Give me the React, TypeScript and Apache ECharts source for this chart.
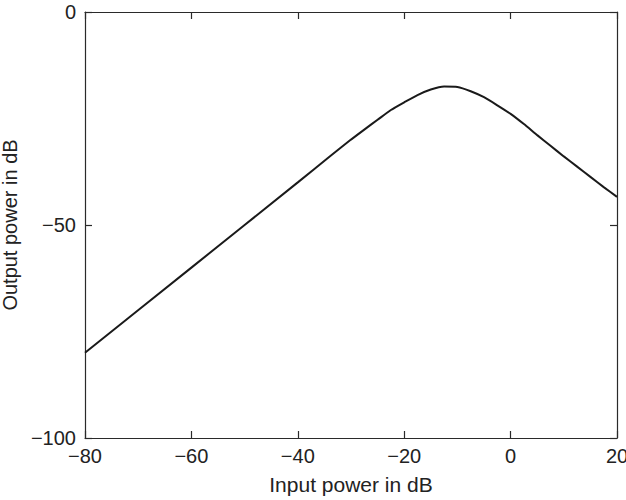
import React, { useEffect, useRef } from "react";
import * as echarts from "echarts";

const inputDb = [-80, -60, -40, -34, -30, -27.5, -25, -22.5, -20, -17.5, -15, -12.5, -10, -7.5, -5, -2.5, 0, 2.5, 5, 7.5, 10, 12.5, 15, 17.5, 20];
const outputDb = [-80, -60, -40, -33.9, -29.95, -27.6, -25.3, -23.0, -21.2, -19.5, -18.2, -17.5, -17.6, -18.6, -20.0, -21.9, -23.9, -26.3, -28.9, -31.4, -33.9, -36.3, -38.7, -41.1, -43.4];

const xTitle = "Input power in dB";
const yTitle = "Output power in dB";

const fmt = (v: number) => String(v).replace("-", "\u2212");

export default function App() {
  const ref = useRef<HTMLDivElement>(null);
  useEffect(() => {
    if (!ref.current) return;
    const chart = echarts.init(ref.current, null, { renderer: "svg" });
    const font = "Liberation Sans, Arial, Helvetica, sans-serif";
    const lineStyle = { color: "#2a2a2a", width: 1.2 };
    const baseX = {
      type: "value" as const,
      min: -80,
      max: 20,
      interval: 20,
      axisLine: { show: true, onZero: false, lineStyle },
      axisTick: { show: true, inside: true, length: 7, lineStyle },
      splitLine: { show: false },
    };
    const baseY = {
      type: "value" as const,
      min: -100,
      max: 0,
      interval: 50,
      axisLine: { show: true, onZero: false, lineStyle },
      axisTick: { show: true, inside: true, length: 7, lineStyle },
      splitLine: { show: false },
    };
    chart.setOption({
      animation: false,
      backgroundColor: "#ffffff",
      grid: { left: 85, right: 9, top: 12, bottom: 62, containLabel: false, outerBoundsMode: "none" },
      xAxis: [
        {
          ...baseX,
          position: "bottom",
          name: xTitle,
          nameLocation: "middle",
          nameGap: 36,
          nameTextStyle: { fontFamily: font, fontSize: 21, color: "#222" },
          axisLabel: { formatter: fmt, fontFamily: font, fontSize: 20, color: "#222", margin: 8, showMaxLabel: true, showMinLabel: true },
        },
        { ...baseX, position: "top", axisLabel: { show: false } },
      ],
      yAxis: [
        {
          ...baseY,
          position: "left",
          name: yTitle,
          nameLocation: "middle",
          nameGap: 62,
          nameTextStyle: { fontFamily: font, fontSize: 20, color: "#222" },
          axisLabel: { formatter: fmt, fontFamily: font, fontSize: 20, color: "#222", margin: 9 },
        },
        { ...baseY, position: "right", axisLabel: { show: false } },
      ],
      series: [
        {
          type: "line",
          data: inputDb.map((x, i) => [x, outputDb[i]]),
          smooth: 0.2,
          showSymbol: false,
          lineStyle: { color: "#1a1a1a", width: 2 },
        },
      ],
    });
    return () => chart.dispose();
  }, []);
  return (
    <div
      ref={ref}
      style={{ position: "fixed", left: 0, top: 0, width: 626, height: 500 }}
    />
  );
}
